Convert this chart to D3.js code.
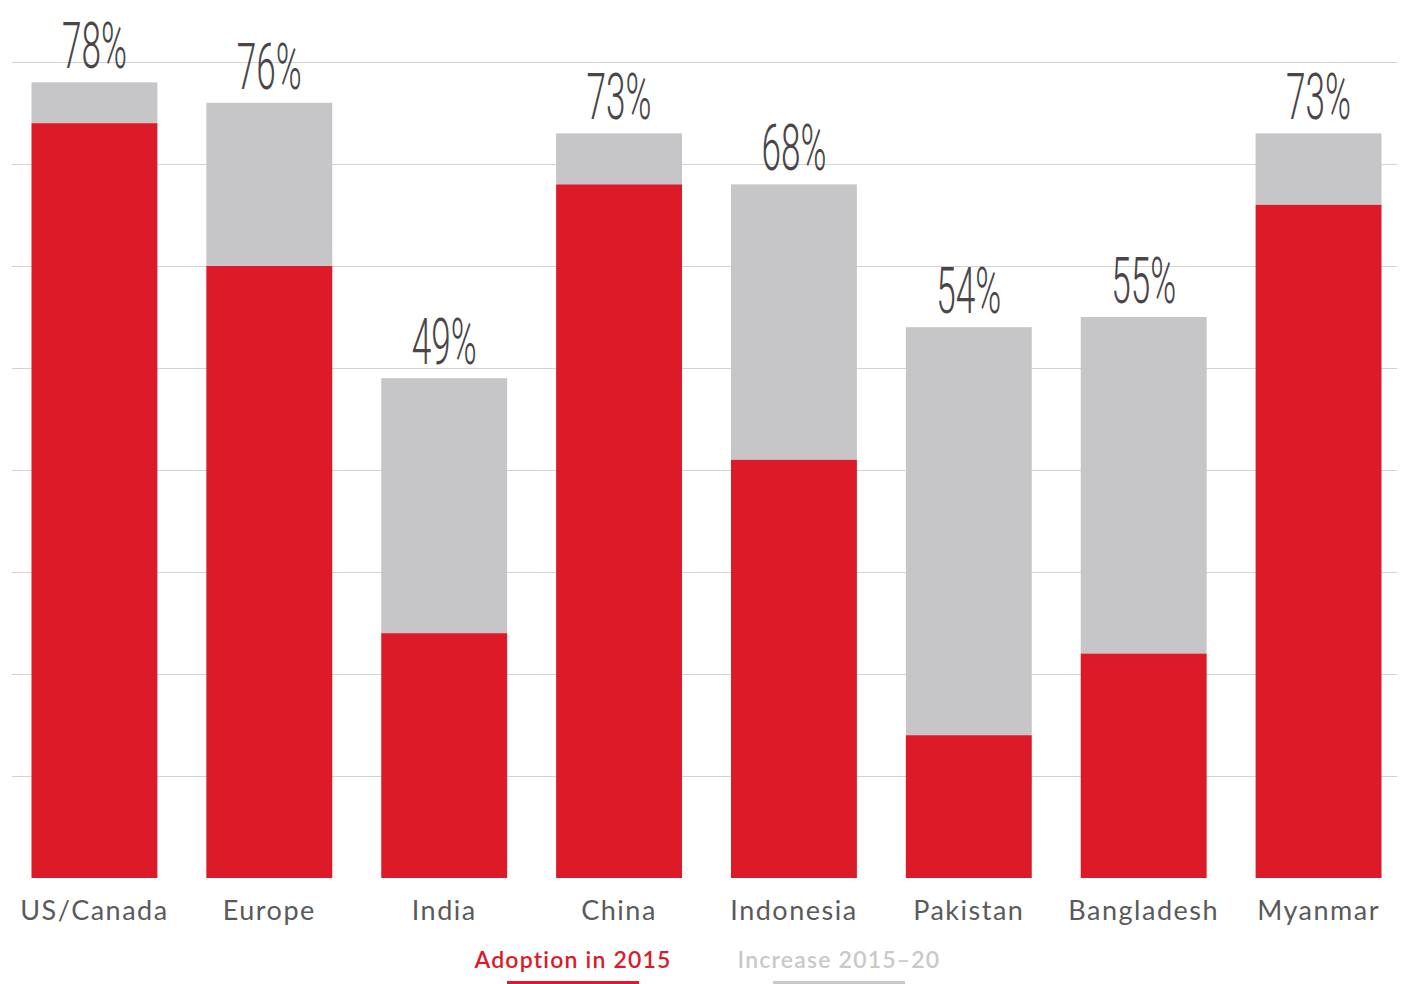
<!DOCTYPE html>
<html>
<head>
<meta charset="utf-8">
<script src="https://cdn.jsdelivr.net/npm/d3@7"></script>
<style>
  html, body { margin: 0; padding: 0; background: #fff; }
  svg { display: block; }
</style>
</head>
<body>
<svg id="chart" width="1402" height="984"></svg>
<script>
// Regions and their adoption shares (percent)
const regions = ["US/Canada", "Europe", "India", "China", "Indonesia", "Pakistan", "Bangladesh", "Myanmar"];
const adoption2015 = [74, 60, 24, 68, 41, 14, 22, 66];
const total2020 = [78, 76, 49, 73, 68, 54, 55, 73];
const gridTicks = [10, 20, 30, 40, 50, 60, 70, 80];
const legendLabels = ["Adoption in 2015", "Increase 2015–20"];

const RED = "#dc1a28";
const GREY = "#c6c6c8";

const svg = d3.select("#chart");

const x = d3.scaleBand()
  .domain(regions)
  .range([14, 1399])
  .paddingInner(0.28)
  .paddingOuter(0.1);

const y = d3.scaleLinear()
  .domain([0, 80])
  .range([878, 62]);

// Horizontal gridlines
svg.append("g")
  .selectAll("line")
  .data(gridTicks)
  .join("line")
  .attr("x1", 12)
  .attr("x2", 1397)
  .attr("y1", d => Math.round(y(d)) + 0.5)
  .attr("y2", d => Math.round(y(d)) + 0.5)
  .attr("stroke", "#d2d2d2")
  .attr("stroke-width", 1);

const rows = regions.map((r, i) => ({ region: r, base: adoption2015[i], total: total2020[i] }));

// Grey: increase to 2020 (stacked above the 2015 share)
svg.append("g")
  .selectAll("rect")
  .data(rows)
  .join("rect")
  .attr("x", d => x(d.region))
  .attr("width", x.bandwidth())
  .attr("y", d => y(d.total))
  .attr("height", d => y(d.base) - y(d.total))
  .attr("fill", GREY);

// Red: adoption in 2015
svg.append("g")
  .selectAll("rect")
  .data(rows)
  .join("rect")
  .attr("x", d => x(d.region))
  .attr("width", x.bandwidth())
  .attr("y", d => y(d.base))
  .attr("height", d => y(0) - y(d.base))
  .attr("fill", RED);

// Total value labels, squeezed horizontally into a tall condensed look
const LABEL_WIDTH = 65;
svg.append("g")
  .selectAll("g")
  .data(rows)
  .join("g")
  .attr("transform", d => `translate(${x(d.region) + x.bandwidth() / 2},${y(d.total) - 14})`)
  .append("text")
  .attr("text-anchor", "middle")
  .attr("font-family", "Roboto, 'DejaVu Sans', sans-serif")
  .attr("font-weight", 300)
  .attr("font-size", 64)
  .attr("fill", "#4a4647")
  .text(d => d.total + "%")
  .attr("transform", function () {
    const w = this.getComputedTextLength();
    return `scale(${LABEL_WIDTH / w},1)`;
  });

// Category labels
svg.append("g")
  .selectAll("text")
  .data(regions)
  .join("text")
  .attr("x", d => x(d) + x.bandwidth() / 2)
  .attr("y", 920)
  .attr("text-anchor", "middle")
  .attr("font-family", "Lato, 'Open Sans', sans-serif")
  .attr("font-size", 27)
  .attr("letter-spacing", 1.5)
  .attr("fill", "#5a5a5c")
  .text(d => d);

// Legend
const legend = [
  { label: legendLabels[0], color: RED, line: RED, cx: 573 },
  { label: legendLabels[1], color: "#c9c9c9", line: "#c9c9c9", cx: 839 }
];
const lg = svg.append("g");
lg.selectAll("text")
  .data(legend)
  .join("text")
  .attr("x", d => d.cx)
  .attr("y", 968)
  .attr("text-anchor", "middle")
  .attr("font-family", "Lato, 'Open Sans', sans-serif")
  .attr("font-weight", 600)
  .attr("font-size", 23)
  .attr("letter-spacing", 1.2)
  .attr("fill", d => d.color)
  .text(d => d.label);
lg.selectAll("rect")
  .data(legend)
  .join("rect")
  .attr("x", d => d.cx - 66)
  .attr("y", 981)
  .attr("width", 132)
  .attr("height", 3)
  .attr("fill", d => d.line);
</script>
</body>
</html>
